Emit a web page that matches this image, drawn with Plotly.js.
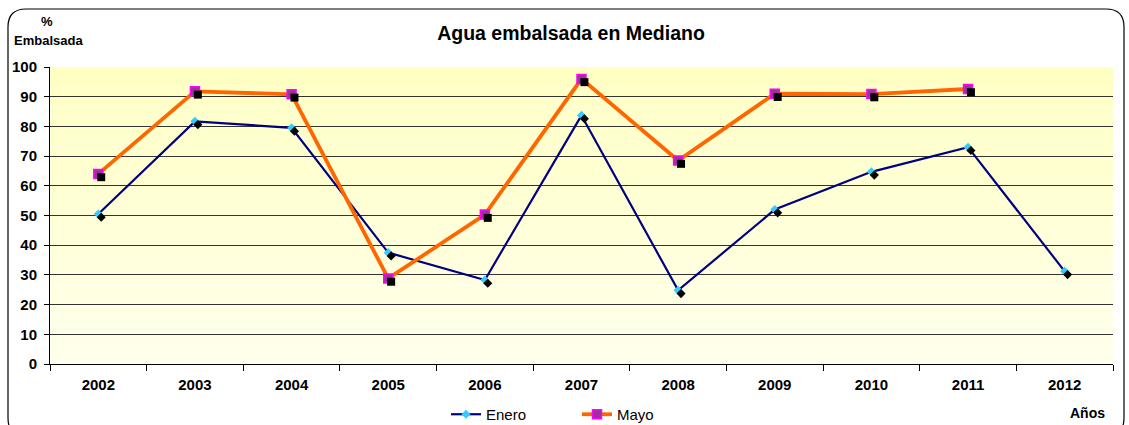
<!DOCTYPE html>
<html><head><meta charset="utf-8">
<script src="https://cdn.plot.ly/plotly-3.0.1.min.js"></script>
<style>body{margin:0;background:#fff}#c{width:1129px;height:425px}</style>
</head><body><div id="c"></div>
<script>
const years = ['2002','2003','2004','2005','2006','2007','2008','2009','2010','2011','2012'];
const enero = [50.5, 81.7, 79.5, 37.5, 28.3, 83.7, 24.8, 52.0, 64.7, 73.0, 31.2];
const mayo  = [64.0, 91.8, 90.8, 28.8, 50.3, 96.0, 68.5, 91.0, 90.9, 92.6, null];
const yTicks = [0,10,20,30,40,50,60,70,80,90,100];

const W=1129,H=425, L=50, R=16, T=67, B=61;
const pw=W-L-R, ph=H-T-B;
const px=x=>(x-L)/pw, py=y=>(H-B-y)/ph;
function rr(x0,y0,x1,y1,r){
  return `M ${px(x0+r)} ${py(y0)} L ${px(x1-r)} ${py(y0)} Q ${px(x1)} ${py(y0)} ${px(x1)} ${py(y0+r)} L ${px(x1)} ${py(y1-r)} Q ${px(x1)} ${py(y1)} ${px(x1-r)} ${py(y1)} L ${px(x0+r)} ${py(y1)} Q ${px(x0)} ${py(y1)} ${px(x0)} ${py(y1-r)} L ${px(x0)} ${py(y0+r)} Q ${px(x0)} ${py(y0)} ${px(x0+r)} ${py(y0)} Z`;
}
const shapes=[];
const nb=30;
for(let i=0;i<nb;i++){
  const t=i/(nb-1);
  const b=Math.round(195+(235-195)*t);
  shapes.push({type:'rect',xref:'paper',yref:'paper',x0:0,x1:1,y0:1-(i+1)/nb,y1:1-i/nb,fillcolor:`rgb(255,255,${b})`,line:{width:0},layer:'below'});
}
shapes.push({type:'path',xref:'paper',yref:'paper',path:rr(8,9,1124,436,18),line:{color:'#000',width:1.2},layer:'above'});

const traces=[
  {x:years,y:enero,xaxis:'x2',yaxis:'y2',mode:'markers',marker:{symbol:'diamond',size:7,color:'#000'},showlegend:false,hoverinfo:'skip'},
  {x:years,y:mayo,xaxis:'x2',yaxis:'y2',mode:'markers',marker:{symbol:'square',size:8,color:'#000'},showlegend:false,hoverinfo:'skip'},
  {x:years,y:enero,name:'Enero',mode:'lines+markers',line:{color:'#000080',width:2.2},marker:{symbol:'diamond',size:7,color:'#33CCFF',line:{color:'#33CCFF',width:0}}},
  {x:years,y:mayo,name:'Mayo',mode:'lines+markers',line:{color:'#FF6600',width:3.8},marker:{symbol:'square',size:9,color:'#993399',line:{color:'#FF00FF',width:1.5}}}
];
const font={family:'Liberation Sans, Arial, sans-serif',color:'#000'};
const layout={
  width:W,height:H,margin:{l:L,r:R,t:T,b:B,autoexpand:false},
  paper_bgcolor:'#fff',plot_bgcolor:'rgba(0,0,0,0)',
  font:font,
  title:{text:'<b>Agua embalsada en Mediano</b>',font:{size:19.5,family:font.family,color:'#000'},x:px(571),xref:'paper',xanchor:'center',y:py(27),yref:'paper',yanchor:'middle'},
  xaxis:{type:'category',range:[-0.5,10.5],showgrid:false,showline:true,linecolor:'#000',linewidth:1,ticks:'outside',ticklen:6,tickcolor:'#000',tickson:'boundaries',ticklabelstandoff:7,tickfont:{size:15,family:font.family},tickprefix:'<b>',ticksuffix:'</b>',fixedrange:true},
  yaxis:{range:[0,100],tickvals:yTicks,ticktext:yTicks.map(v=>'<b>'+v+'</b>'),showgrid:true,gridcolor:'#333',gridwidth:1,showline:true,linecolor:'#000',ticks:'outside',ticklen:5,tickcolor:'#000',ticklabelstandoff:4,tickfont:{size:15,family:font.family},zeroline:false,fixedrange:true},
  xaxis2:{type:'category',overlaying:'x',range:[-0.5-0.03,10.5-0.03],visible:false},
  yaxis2:{overlaying:'y',range:[1.1,101.1],visible:false},
  legend:{orientation:'h',x:px(446),xanchor:'left',y:-0.17,yanchor:'middle',entrywidth:86,entrywidthmode:'pixels',font:{size:15,family:font.family},tracegroupgap:0,bgcolor:'rgba(0,0,0,0)'},
  shapes:shapes,
  annotations:[
    {text:'<b>%</b>',xref:'paper',yref:'paper',x:px(47),y:py(21),xanchor:'center',yanchor:'middle',showarrow:false,font:{size:13,family:font.family}},
    {text:'<b>Embalsada</b>',xref:'paper',yref:'paper',x:px(48),y:py(41),xanchor:'center',yanchor:'middle',showarrow:false,font:{size:13,family:font.family}},
    {text:'<b>Años</b>',xref:'paper',yref:'paper',x:px(1087),y:py(413),xanchor:'center',yanchor:'middle',showarrow:false,font:{size:14,family:font.family}}
  ]
};
Plotly.newPlot('c',traces,layout,{displayModeBar:false,staticPlot:true});
</script></body></html>
